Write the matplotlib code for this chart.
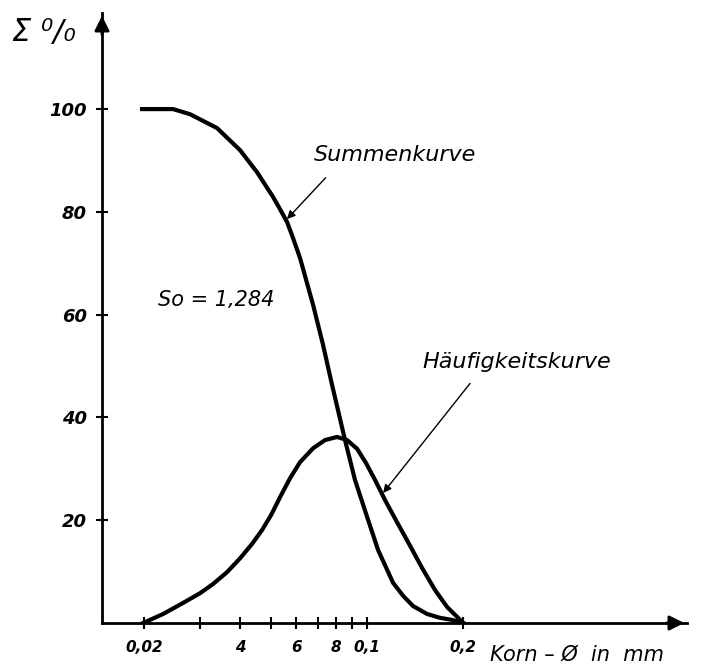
import matplotlib
matplotlib.use('Agg')
import matplotlib.pyplot as plt
from matplotlib.ticker import FixedLocator, NullFormatter

# Summenkurve (Korn-Durchmesser in mm, Summe in %)
sum_x = [0.01971, 0.0222, 0.02466, 0.02788, 0.03388, 0.0400, 0.04522, 0.05075,
         0.05338, 0.05616, 0.05862, 0.06166, 0.06774, 0.0728, 0.0777, 0.0853,
         0.0917, 0.1001, 0.1083, 0.1207, 0.1297, 0.1394, 0.1543, 0.1695,
         0.1847, 0.20]
sum_y = [100, 100, 100, 99.0, 96.3, 92.0, 87.7, 82.9,
         80.5, 78.0, 74.9, 71.0, 61.9, 54.1, 46.3, 35.6,
         27.8, 20.6, 14.2, 7.8, 5.3, 3.3, 1.75, 1.0,
         0.6, 0]

# Haeufigkeitskurve
freq_x = [0.01986, 0.02294, 0.02649, 0.02996, 0.03291, 0.03641, 0.0400, 0.04362,
          0.04688, 0.05002, 0.05338, 0.05739, 0.06166, 0.06774, 0.07387, 0.08054,
          0.08656, 0.09307, 0.09932, 0.1060, 0.1139, 0.1242, 0.1365, 0.1488,
          0.1634, 0.1783, 0.1915, 0.20]
freq_y = [0, 1.75, 3.9, 5.8, 7.6, 9.9, 12.6, 15.4,
          18.1, 21.0, 24.5, 28.2, 31.3, 34.0, 35.6, 36.2,
          35.6, 33.9, 31.1, 27.8, 23.9, 19.6, 15.0, 10.7,
          6.4, 3.1, 1.2, 0]

x_major = [0.02, 0.04, 0.06, 0.08, 0.1, 0.2]
x_major_labels = ['0,02', '4', '6', '8', '0,1', '0,2']
x_minor = [0.03, 0.05, 0.07, 0.09]
y_ticks = [20, 40, 60, 80, 100]

plt.rcParams['font.family'] = ['DejaVu Sans']
plt.rcParams['font.style'] = 'italic'

fig = plt.figure(figsize=(7.09, 6.70), dpi=100)
ax = fig.add_axes([102 / 709, 1 - 623 / 670, (687 - 102) / 709, (623 - 13) / 670])

ax.plot(sum_x, sum_y, color='black', lw=3, solid_joinstyle='round')
ax.plot(freq_x, freq_y, color='black', lw=3, solid_joinstyle='round')

ax.set_xscale('log')
ax.set_xlim(0.01476, 1.007)
ax.set_ylim(0, 118.7)

# Achsen mit Pfeilen
for s in ['top', 'right']:
    ax.spines[s].set_visible(False)
for s in ['left', 'bottom']:
    ax.spines[s].set_linewidth(2)
ax.annotate('', xy=(1, 0), xytext=(0.96, 0), xycoords='axes fraction',
            arrowprops=dict(arrowstyle='-|>', color='black', lw=2, mutation_scale=22))
ax.annotate('', xy=(0, 1), xytext=(0, 0.96), xycoords='axes fraction',
            arrowprops=dict(arrowstyle='-|>', color='black', lw=2, mutation_scale=22))

ax.xaxis.set_major_locator(FixedLocator(x_major))
ax.set_xticklabels(x_major_labels)
ax.xaxis.set_minor_locator(FixedLocator(x_minor))
ax.xaxis.set_minor_formatter(NullFormatter())
ax.set_yticks(y_ticks)
ax.set_yticklabels([str(v) for v in y_ticks])

ax.tick_params(which='both', direction='inout', length=8, width=1.5)
ax.tick_params(axis='x', pad=8)
ax.tick_params(axis='y', pad=7)
for lab in ax.get_xticklabels():
    lab.set_fontsize(11)
    lab.set_fontweight('bold')
for lab in ax.get_yticklabels():
    lab.set_fontsize(13)
    lab.set_fontweight('bold')

# Beschriftungen
ax.annotate('Summenkurve', xy=(0.0561, 78.6), xytext=(0.122, 91.1),
            ha='center', va='center', fontsize=16,
            arrowprops=dict(arrowstyle='-|>', color='black', lw=1,
                            mutation_scale=12, shrinkA=10, shrinkB=0,
                            relpos=(0.15, 0)))
ax.annotate('Häufigkeitskurve', xy=(0.1123, 25.3), xytext=(0.295, 50.8),
            ha='center', va='center', fontsize=16,
            arrowprops=dict(arrowstyle='-|>', color='black', lw=1,
                            mutation_scale=12, shrinkA=8, shrinkB=0,
                            relpos=(0.3, 0)))
ax.text(0.0336, 62.8, 'So = 1,284', ha='center', va='center', fontsize=15)

fig.text(12 / 709, 1 - 33 / 670, 'Σ ⁰/₀', ha='left', va='center', fontsize=22)
fig.text(490 / 709, 1 - 655 / 670, 'Korn – Ø  in  mm', ha='left', va='center', fontsize=15)

plt.savefig('out.png', dpi=100)
